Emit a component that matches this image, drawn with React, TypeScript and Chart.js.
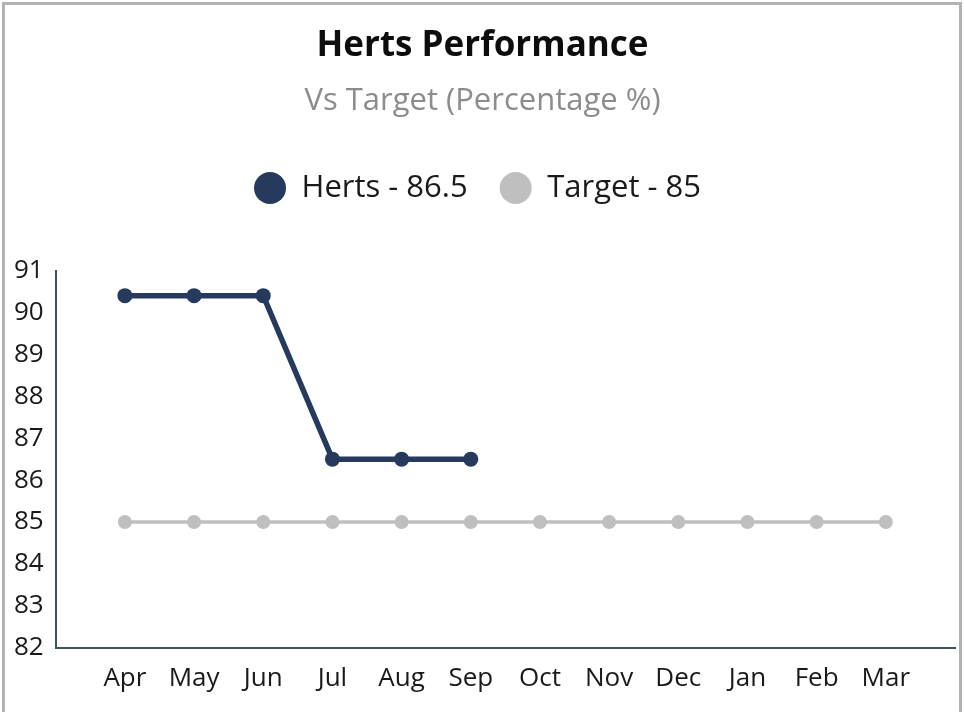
import React, { useEffect, useRef } from "react";
import { Chart, registerables } from "chart.js";

Chart.register(...registerables);

const months = ["Apr", "May", "Jun", "Jul", "Aug", "Sep", "Oct", "Nov", "Dec", "Jan", "Feb", "Mar"];
const hertsValues: (number | null)[] = [90.4, 90.4, 90.4, 86.5, 86.5, 86.5, null, null, null, null, null, null];
const targetValues: number[] = [85, 85, 85, 85, 85, 85, 85, 85, 85, 85, 85, 85];
const seriesNames = ["Herts - 86.5", "Target - 85"];
const yTicks = [82, 83, 84, 85, 86, 87, 88, 89, 90, 91];
const titleText = "Herts Performance";
const subtitleText = "Vs Target (Percentage %)";

const FONT = "'Open Sans', 'Noto Sans', sans-serif";

const legendSpacer = {
  id: "legendSpacer",
  beforeLayout(chart: any) {
    const legend = chart.legend;
    if (legend && !legend._spaced) {
      const orig = legend.fit;
      legend.fit = function () {
        orig.call(this);
        this.height += 57;
      };
      legend._spaced = true;
    }
  },
  afterLayout(chart: any) {
    const legend = chart.legend;
    if (legend) {
      legend.left -= 5;
      legend.right -= 5;
    }
  },
};

export default function App() {
  const canvasRef = useRef<HTMLCanvasElement | null>(null);

  useEffect(() => {
    document.body.style.margin = "0";
    const canvas = canvasRef.current;
    if (!canvas) return;
    const chart = new Chart(canvas, {
      type: "line",
      data: {
        datasets: [
          {
            label: seriesNames[0],
            data: hertsValues.map((v, i) => ({ x: i, y: v })),
            borderColor: "#263A5E",
            backgroundColor: "#263A5E",
            pointBackgroundColor: "#263A5E",
            pointBorderColor: "#263A5E",
            borderWidth: 5.5,
            pointRadius: 7.5,
            pointBorderWidth: 0,
            spanGaps: false,
            order: 0,
          },
          {
            label: seriesNames[1],
            data: targetValues.map((v, i) => ({ x: i, y: v })),
            borderColor: "#BFBFBF",
            backgroundColor: "#BFBFBF",
            pointBackgroundColor: "#BFBFBF",
            pointBorderColor: "#BFBFBF",
            borderWidth: 3.5,
            pointRadius: 7,
            pointBorderWidth: 0,
            order: 1,
          },
        ],
      },
      options: {
        responsive: false,
        animation: false,
        layout: { padding: { top: 0, left: 2, right: 1, bottom: 3 } },
        plugins: {
          title: {
            display: true,
            text: titleText,
            color: "#0d0d0d",
            font: { family: FONT, size: 35, weight: "bold" },
            padding: { top: 25, bottom: 0 },
          },
          subtitle: {
            display: true,
            text: subtitleText,
            color: "#8C8C8C",
            font: { family: FONT, size: 31 },
            padding: { top: 15.4, bottom: 20.9 },
          },
          legend: {
            display: true,
            position: "top",
            labels: {
              usePointStyle: true,
              pointStyle: "circle",
              boxHeight: 22.6,
              pointStyleWidth: 32,
              padding: 32,
              color: "#1a1a1a",
              font: { family: FONT, size: 31 },
            },
          },
          tooltip: { enabled: false },
        },
        scales: {
          x: {
            type: "linear",
            min: -1,
            max: 12,
            grid: { display: false, drawTicks: false },
            border: { display: true, color: "#3B5558", width: 2 },
            afterFit: (scale: any) => {
              scale.paddingLeft = 0;
              scale.paddingRight = 9;
            },
            ticks: {
              stepSize: 1,
              autoSkip: false,
              maxRotation: 0,
              padding: 15,
              color: "#1a1a1a",
              font: { family: FONT, size: 26 },
              callback: (v: any) => (months[v as number] ?? ""),
            },
          },
          y: {
            min: 82,
            max: 91,
            grid: { display: false, drawTicks: false },
            border: { display: true, color: "#3B5558", width: 2 },
            afterBuildTicks: (scale: any) => {
              scale.ticks = yTicks.map((v) => ({ value: v }));
            },
            ticks: {
              padding: 12,
              color: "#1a1a1a",
              font: { family: FONT, size: 26 },
            },
          },
        },
      },
      plugins: [legendSpacer],
    });
    return () => chart.destroy();
  }, []);

  return (
    <div style={{ position: "relative", width: 964, height: 712, overflow: "hidden", background: "#ffffff" }}>
      <canvas ref={canvasRef} width={964} height={712} style={{ display: "block" }} />
      <div
        style={{
          position: "absolute",
          left: 2,
          top: 2,
          width: 954,
          height: 800,
          border: "3px solid #B3B3B3",
          pointerEvents: "none",
        }}
      />
    </div>
  );
}
